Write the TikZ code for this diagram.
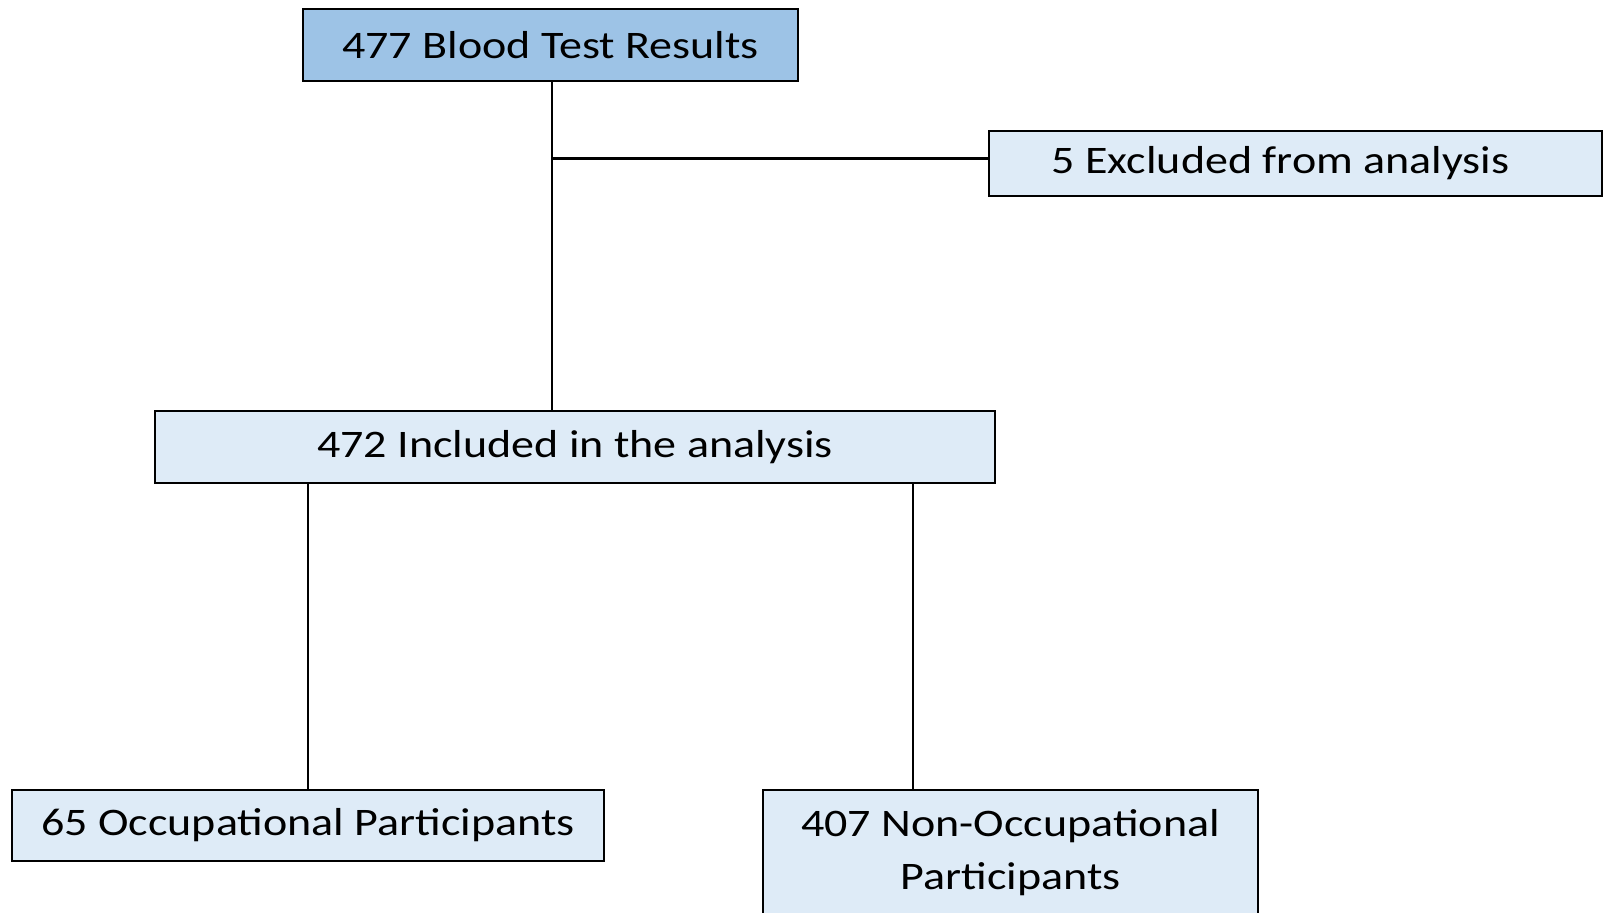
\documentclass[tikz,border=0pt]{standalone}
\usepackage{fontspec}
\setmainfont[FakeStretch=1.18]{Carlito}
\usepackage{xcolor}
\usepackage{tikz}
\usetikzlibrary{calc}

\definecolor{boxdark}{RGB}{157,195,230}
\definecolor{boxlight}{RGB}{222,235,247}

\tikzset{
  stepbox/.style={draw=black, line width=2.4pt, inner sep=0pt, align=center,
    font=\fontsize{39}{53}\selectfont},
  link/.style={line width=2.4pt}
}

\begin{document}
\begin{tikzpicture}[x=1pt, y=-1pt]
% page frame
\useasboundingbox (0,0) rectangle (1604,913);
\begin{scope}
\clip (0,0) rectangle (1604,913);

% Drawing the boxes
\node[stepbox, fill=boxdark, minimum width=495pt, minimum height=72pt] (total) at (550.5,45) {477 Blood Test Results};
\node[stepbox, fill=boxlight, minimum width=613pt, minimum height=65pt] (excl) at (1295.5,163.5) {\hspace*{-30pt}5 Excluded from analysis};
\node[stepbox, fill=boxlight, minimum width=840pt, minimum height=72pt] (incl) at (575,447) {472 Included in the analysis};
\node[stepbox, fill=boxlight, minimum width=592pt, minimum height=71pt] (occ) at (308,825.5) {65 Occupational Participants};
\node[stepbox, fill=boxlight, minimum width=495pt, minimum height=126pt] (nonocc) at (1010.5,853) {407 Non-Occupational\\Participants};

% Drawing the connectors
\coordinate (split) at (552,158.5);
\coordinate (right) at (913,0);
\draw[link] (total.south -| split) -- (incl.north -| split);
\draw[link] (split) -- (split -| excl.west);
\draw[link] (incl.south -| occ.north) -- (occ.north);
\draw[link] (incl.south -| right) -- (nonocc.north -| right);
\end{scope}
\end{tikzpicture}
\end{document}
